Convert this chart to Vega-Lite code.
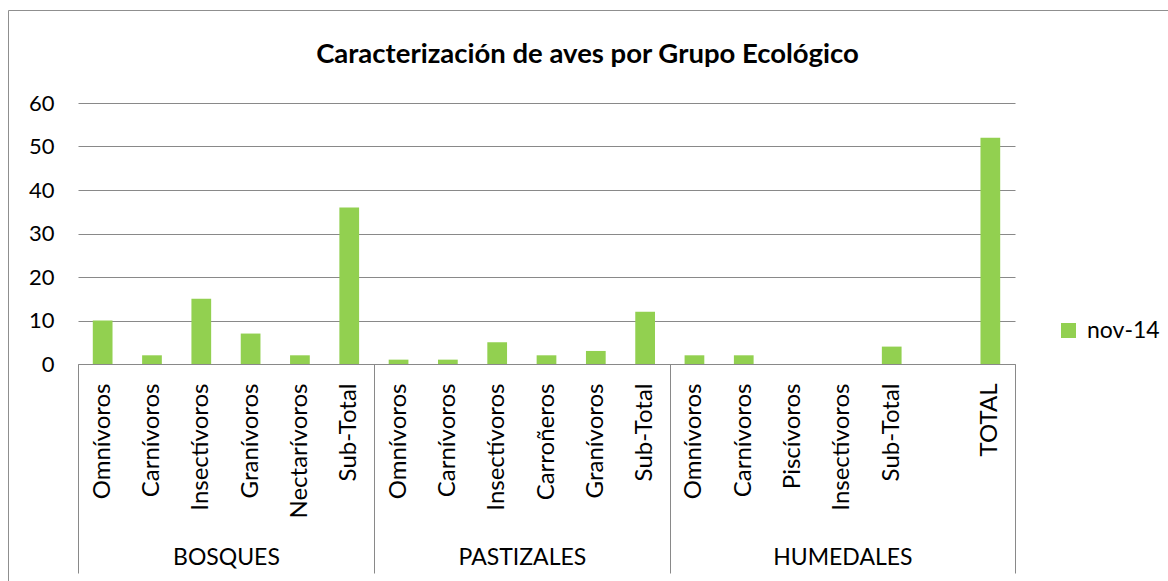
{
  "$schema": "https://vega.github.io/schema/vega-lite/v6.json",
  "width": 937,
  "height": 261,
  "autosize": "none",
  "padding": {"left": 78, "top": 103, "right": 153, "bottom": 217},
  "background": "white",
  "config": {"view": {"stroke": null}, "font": "Lato"},
  "title": {
    "text": "Caracterización de aves por Grupo Ecológico",
    "font": "Lato",
    "fontSize": 27.5,
    "fontWeight": "bold",
    "color": "black",
    "anchor": "middle",
    "frame": "group",
    "dx": 41,
    "offset": -61
  },
  "resolve": {"scale": {"x": "independent", "y": "independent"}, "axis": {"x": "independent", "y": "independent"}},
  "layer": [
    {
      "data": {"values": [{"marco": 0}, {"marco": 1}]},
      "mark": {"type": "point", "opacity": 0},
      "encoding": {
        "x": {
          "field": "marco",
          "type": "quantitative",
          "scale": {"domain": [0, 1], "range": [-70, 1090], "nice": false, "zero": false},
          "axis": {"title": null, "orient": "top", "offset": 93, "labels": false, "ticks": false, "grid": false, "domain": true, "domainColor": "#8f8f8f", "domainWidth": 1}
        },
        "y": {
          "field": "marco",
          "type": "quantitative",
          "scale": {"domain": [0, 1], "range": [478, -93], "nice": false, "zero": false},
          "axis": {"title": null, "orient": "left", "offset": 70, "labels": false, "ticks": false, "grid": false, "domain": true, "domainColor": "#8f8f8f", "domainWidth": 1}
        }
      }
    },
    {
      "data": {
        "values": [
          {"cat": "BOSQUES|Omnívoros", "grupo": "BOSQUES", "valor": 10, "serie": "nov-14"},
          {"cat": "BOSQUES|Carnívoros", "grupo": "BOSQUES", "valor": 2, "serie": "nov-14"},
          {"cat": "BOSQUES|Insectívoros", "grupo": "BOSQUES", "valor": 15, "serie": "nov-14"},
          {"cat": "BOSQUES|Granívoros", "grupo": "BOSQUES", "valor": 7, "serie": "nov-14"},
          {"cat": "BOSQUES|Nectarívoros", "grupo": "BOSQUES", "valor": 2, "serie": "nov-14"},
          {"cat": "BOSQUES|Sub-Total", "grupo": "BOSQUES", "valor": 36, "serie": "nov-14"},
          {"cat": "PASTIZALES|Omnívoros", "grupo": "PASTIZALES", "valor": 1, "serie": "nov-14"},
          {"cat": "PASTIZALES|Carnívoros", "grupo": "PASTIZALES", "valor": 1, "serie": "nov-14"},
          {"cat": "PASTIZALES|Insectívoros", "grupo": "PASTIZALES", "valor": 5, "serie": "nov-14"},
          {"cat": "PASTIZALES|Carroñeros", "grupo": "PASTIZALES", "valor": 2, "serie": "nov-14"},
          {"cat": "PASTIZALES|Granívoros", "grupo": "PASTIZALES", "valor": 3, "serie": "nov-14"},
          {"cat": "PASTIZALES|Sub-Total", "grupo": "PASTIZALES", "valor": 12, "serie": "nov-14"},
          {"cat": "HUMEDALES|Omnívoros", "grupo": "HUMEDALES", "valor": 2, "serie": "nov-14"},
          {"cat": "HUMEDALES|Carnívoros", "grupo": "HUMEDALES", "valor": 2, "serie": "nov-14"},
          {"cat": "HUMEDALES|Piscívoros", "grupo": "HUMEDALES", "valor": 0, "serie": "nov-14"},
          {"cat": "HUMEDALES|Insectívoros", "grupo": "HUMEDALES", "valor": 0, "serie": "nov-14"},
          {"cat": "HUMEDALES|Sub-Total", "grupo": "HUMEDALES", "valor": 4, "serie": "nov-14"},
          {"cat": "HUMEDALES| ", "grupo": "HUMEDALES", "valor": null, "serie": "nov-14"},
          {"cat": "HUMEDALES|TOTAL", "grupo": "HUMEDALES", "valor": 52, "serie": "nov-14"}
        ]
      },
      "mark": {"type": "bar", "color": "#92D050"},
      "encoding": {
        "x": {
          "field": "cat",
          "type": "nominal",
          "sort": null,
          "scale": {
            "domain": ["BOSQUES|Omnívoros", "BOSQUES|Carnívoros", "BOSQUES|Insectívoros", "BOSQUES|Granívoros", "BOSQUES|Nectarívoros", "BOSQUES|Sub-Total", "PASTIZALES|Omnívoros", "PASTIZALES|Carnívoros", "PASTIZALES|Insectívoros", "PASTIZALES|Carroñeros", "PASTIZALES|Granívoros", "PASTIZALES|Sub-Total", "HUMEDALES|Omnívoros", "HUMEDALES|Carnívoros", "HUMEDALES|Piscívoros", "HUMEDALES|Insectívoros", "HUMEDALES|Sub-Total", "HUMEDALES| ", "HUMEDALES|TOTAL"],
            "paddingInner": 0.6,
            "paddingOuter": 0.3
          },
          "axis": {
            "title": null,
            "orient": "bottom",
            "labelAngle": -90,
            "labelExpr": "split(datum.label, '|')[1]",
            "ticks": false,
            "domain": true,
            "domainColor": "#898989",
            "domainWidth": 1,
            "labelFont": "Lato",
            "labelFontSize": 24,
            "labelColor": "black",
            "labelPadding": 19,
            "labelOverlap": false,
            "labelLimit": 0
          }
        },
        "y": {
          "field": "valor",
          "type": "quantitative",
          "scale": {"domain": [0, 60], "nice": false},
          "axis": {
            "title": null,
            "orient": "left",
            "values": [0, 10, 20, 30, 40, 50, 60],
            "grid": true,
            "gridColor": "#898989",
            "gridWidth": 1,
            "domain": false,
            "ticks": false,
            "labelFont": "Lato",
            "labelFontSize": 22,
            "labelColor": "black",
            "labelPadding": 24
          }
        },
        "color": {
          "field": "serie",
          "type": "nominal",
          "scale": {"range": ["#92D050"]},
          "legend": {
            "title": null,
            "orient": "none",
            "legendX": 979,
            "legendY": 216,
            "padding": 0,
            "symbolType": "square",
            "symbolSize": 225,
            "symbolStrokeWidth": 0,
            "labelFont": "Lato",
            "labelFontSize": 23,
            "labelColor": "black",
            "labelOffset": 7
          }
        }
      }
    },
    {
      "data": {"values": [{"limite": 0}, {"limite": 6}, {"limite": 12}, {"limite": 19}]},
      "mark": {"type": "point", "opacity": 0},
      "encoding": {
        "x": {
          "field": "limite",
          "type": "quantitative",
          "scale": {"domain": [0, 19], "nice": false, "zero": false},
          "axis": {
            "title": null,
            "orient": "bottom",
            "values": [0, 6, 12, 19],
            "labels": false,
            "domain": false,
            "grid": false,
            "ticks": true,
            "tickSize": 209,
            "tickColor": "#898989",
            "tickWidth": 1
          }
        }
      }
    },
    {
      "data": {"values": [{"grupo": "BOSQUES", "centro": 3}, {"grupo": "PASTIZALES", "centro": 9}, {"grupo": "HUMEDALES", "centro": 15.5}]},
      "mark": {"type": "point", "opacity": 0},
      "encoding": {
        "x": {
          "field": "centro",
          "type": "quantitative",
          "scale": {"domain": [0, 19], "nice": false, "zero": false},
          "axis": {
            "title": null,
            "orient": "bottom",
            "values": [3, 9, 15.5],
            "labelExpr": "datum.value == 3 ? 'BOSQUES' : datum.value == 9 ? 'PASTIZALES' : 'HUMEDALES'",
            "ticks": false,
            "tickSize": 0,
            "domain": false,
            "grid": false,
            "labelPadding": 193,
            "labelBaseline": "middle",
            "labelFont": "Lato",
            "labelFontSize": 23,
            "labelColor": "black",
            "labelOverlap": false
          }
        }
      }
    }
  ]
}
